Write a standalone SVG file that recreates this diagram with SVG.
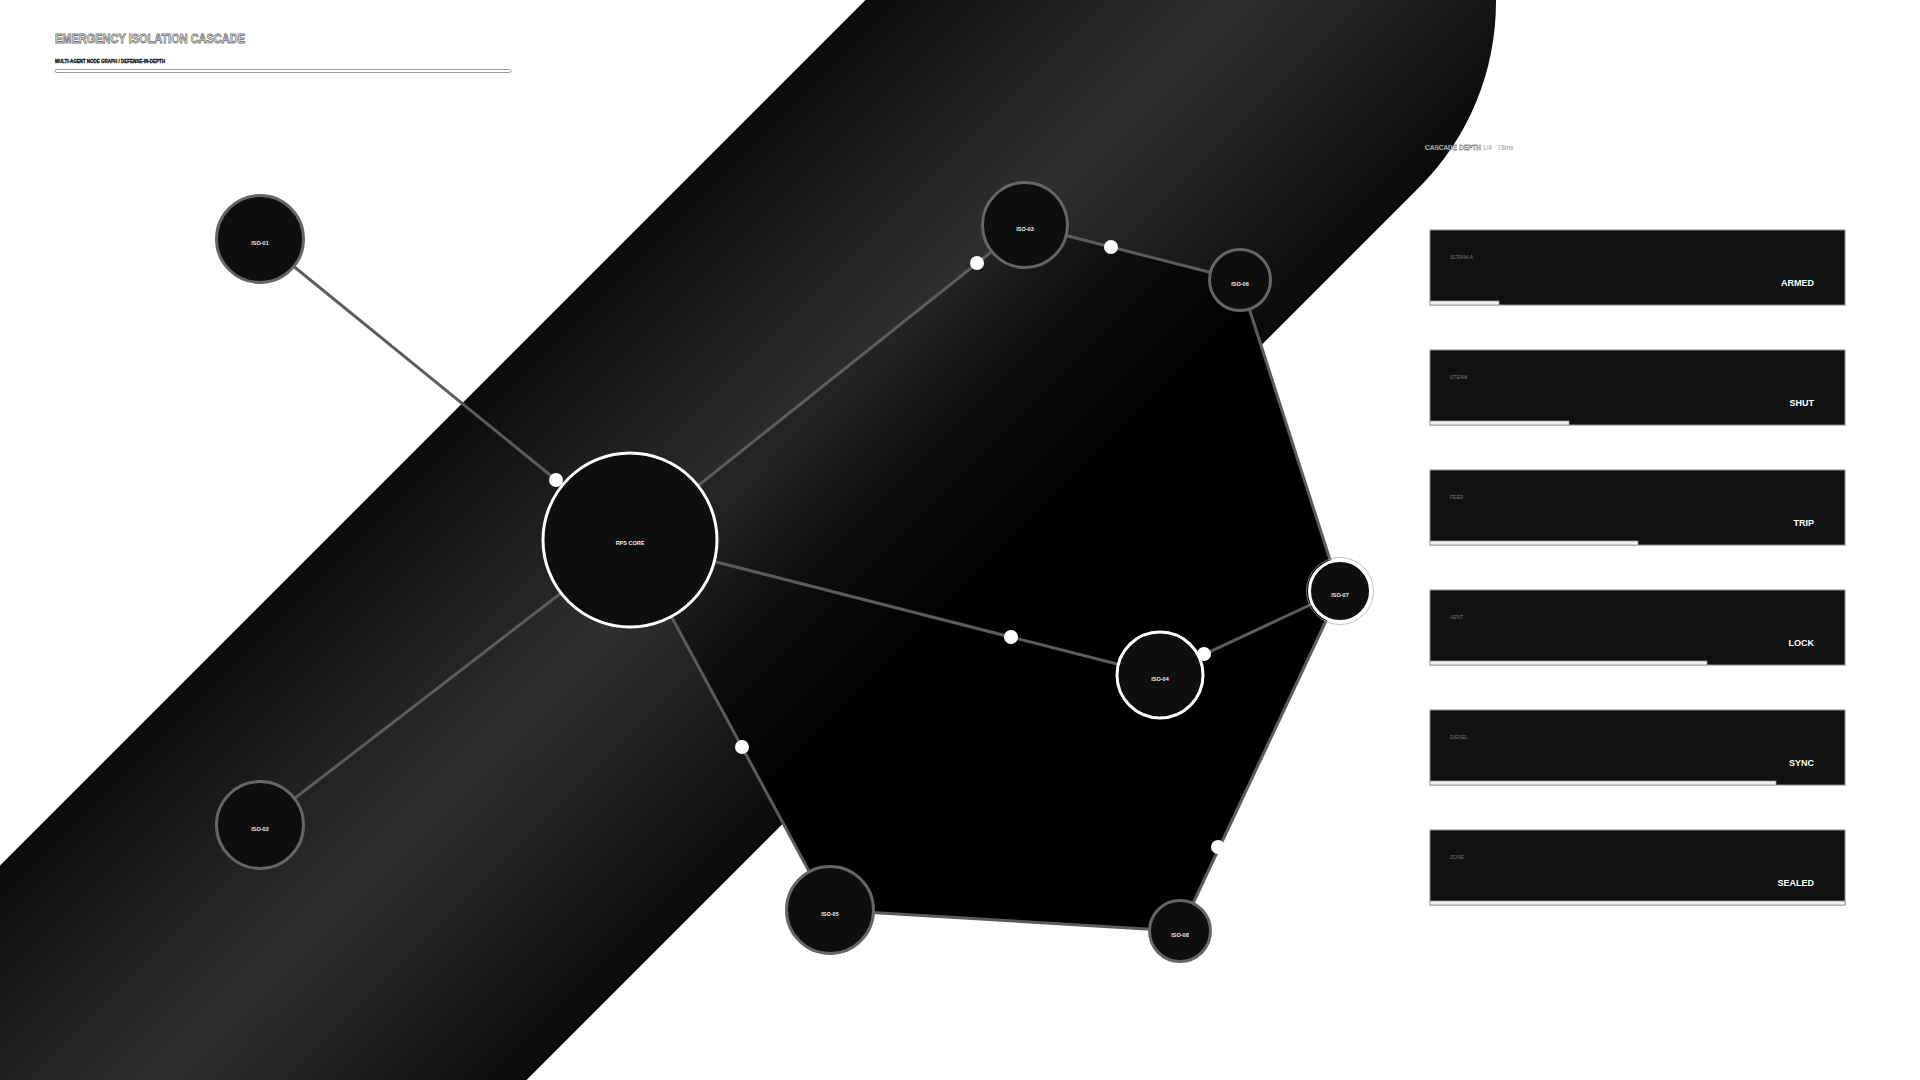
<svg xmlns="http://www.w3.org/2000/svg" width="1920" height="1080" viewBox="0 0 1920 1080">
<defs>
<linearGradient id="bandGrad" gradientUnits="userSpaceOnUse" x1="433" y1="433" x2="803" y2="803">
<stop offset="0" stop-color="#0b0b0b"/>
<stop offset="0.5" stop-color="#2f2f2f"/>
<stop offset="1" stop-color="#0a0a0a"/>
</linearGradient>
<linearGradient id="hullGrad" gradientUnits="userSpaceOnUse" x1="800" y1="300" x2="1050" y2="550">
<stop offset="0" stop-color="#000" stop-opacity="0"/>
<stop offset="1" stop-color="#000" stop-opacity="1"/>
</linearGradient>
<style>
.edge{stroke:#5c5c5c;stroke-width:3;fill:none}
.dot{fill:#fff}
.node{fill:#0e0e0e;stroke:#666;stroke-width:3}
.node-hi{fill:#0e0e0e;stroke:#fff;stroke-width:3}
.nlabel{font-family:"Liberation Sans",Arial,sans-serif;font-size:5.5px;font-weight:bold;fill:#eee;text-anchor:middle}
.panel{fill:#111;stroke:#8a8a8a;stroke-width:1}
.bar{fill:#f2f2f2;stroke:#999;stroke-width:0.8}
.plabel{font-family:"Liberation Sans",Arial,sans-serif;font-size:5px;fill:#777}
.pstatus{font-family:"Liberation Sans",Arial,sans-serif;font-size:9px;font-weight:bold;fill:#fff;text-anchor:end}
</style>
</defs>
<rect x="0" y="0" width="1920" height="1080" fill="#fff"/>
<g id="background">
<path d="M -400 1636 L 1234 2" stroke="url(#bandGrad)" stroke-width="524" stroke-linecap="round" fill="none"/>
<polygon points="630,540 1025,225 1240,280 1340,591 1180,931 830,910" fill="url(#hullGrad)"/>
</g>
<g id="header">
<text x="55" y="43" font-family="Liberation Sans, Arial, sans-serif" font-size="13" font-weight="bold" fill="#fff" stroke="#777" stroke-width="0.9" textLength="190" lengthAdjust="spacingAndGlyphs">EMERGENCY ISOLATION CASCADE</text>
<text x="55" y="62.5" font-family="Liberation Sans, Arial, sans-serif" font-size="5" font-weight="bold" fill="#111" stroke="#111" stroke-width="0.3" textLength="110" lengthAdjust="spacingAndGlyphs">MULTI-AGENT NODE GRAPH / DEFENSE-IN-DEPTH</text>
<rect x="55" y="69.5" width="456" height="3" rx="1.5" fill="#fff" stroke="#999" stroke-width="1"/>
<text x="1425" y="150" font-family="Liberation Sans, Arial, sans-serif" font-size="6.5"><tspan font-weight="bold" fill="#fff" stroke="#222" stroke-width="0.3">CASCADE DEPTH</tspan><tspan fill="#999"> 1/4 · 78ms</tspan></text>
</g>
<g id="connectors">
<line class="edge" x1="260" y1="239" x2="630" y2="540"/>
<line class="edge" x1="630" y1="540" x2="260" y2="825"/>
<line class="edge" x1="630" y1="540" x2="1025" y2="225"/>
<line class="edge" x1="1025" y1="225" x2="1240" y2="280"/>
<line class="edge" x1="630" y1="540" x2="1160" y2="675"/>
<line class="edge" x1="1160" y1="675" x2="1340" y2="591"/>
<line class="edge" x1="1240" y1="280" x2="1340" y2="591"/>
<line class="edge" x1="1340" y1="591" x2="1180" y2="931"/>
<line class="edge" x1="1180" y1="931" x2="830" y2="910"/>
<line class="edge" x1="630" y1="540" x2="830" y2="910"/>
<circle class="dot" cx="556" cy="480" r="7"/>
<circle class="dot" cx="977" cy="263" r="7"/>
<circle class="dot" cx="1111" cy="247" r="7"/>
<circle class="dot" cx="1011" cy="637" r="7"/>
<circle class="dot" cx="1204" cy="654" r="7"/>
<circle class="dot" cx="1218" cy="847" r="7"/>
<circle class="dot" cx="742" cy="747" r="7"/>
</g>
<g id="node-rps-core"><circle class="node-hi" cx="630" cy="540" r="87"/><text class="nlabel" x="630" y="545">RPS CORE</text></g>
<g id="node-iso-01"><circle class="node" cx="260" cy="239" r="43.5"/><text class="nlabel" x="260" y="244.5">ISO-01</text></g>
<g id="node-iso-02"><circle class="node" cx="260" cy="825" r="43.5"/><text class="nlabel" x="260" y="830.5">ISO-02</text></g>
<g id="node-iso-03"><circle class="node" cx="1025" cy="225" r="42.5"/><text class="nlabel" x="1025" y="230.5">ISO-03</text></g>
<g id="node-iso-04"><circle class="node-hi" cx="1160" cy="675" r="43"/><text class="nlabel" x="1160" y="680.5">ISO-04</text></g>
<g id="node-iso-05"><circle class="node" cx="830" cy="910" r="43.5"/><text class="nlabel" x="830" y="915.5">ISO-05</text></g>
<g id="node-iso-06"><circle class="node" cx="1240" cy="280" r="30.5"/><text class="nlabel" x="1240" y="285.5">ISO-06</text></g>
<g id="node-iso-07"><circle cx="1340" cy="591" r="33.5" fill="none" stroke="#aaa" stroke-width="1" opacity="0.7"/><circle class="node-hi" cx="1340" cy="591" r="30.5"/><text class="nlabel" x="1340" y="596.5">ISO-07</text></g>
<g id="node-iso-08"><circle class="node" cx="1180" cy="931" r="30.5"/><text class="nlabel" x="1180" y="936.5">ISO-08</text></g>
<g id="panel-scram"><rect class="panel" x="1430" y="230" width="415" height="75"/><rect class="bar" x="1430" y="301" width="69" height="4"/><text class="plabel" x="1450" y="259">SCRAM-A</text><text class="pstatus" x="1814" y="286">ARMED</text></g>
<g id="panel-steam"><rect class="panel" x="1430" y="350" width="415" height="75"/><rect class="bar" x="1430" y="421" width="139" height="4"/><text class="plabel" x="1450" y="379">STEAM</text><text class="pstatus" x="1814" y="406">SHUT</text></g>
<g id="panel-feed"><rect class="panel" x="1430" y="470" width="415" height="75"/><rect class="bar" x="1430" y="541" width="208" height="4"/><text class="plabel" x="1450" y="499">FEED</text><text class="pstatus" x="1814" y="526">TRIP</text></g>
<g id="panel-vent"><rect class="panel" x="1430" y="590" width="415" height="75"/><rect class="bar" x="1430" y="661" width="277" height="4"/><text class="plabel" x="1450" y="619">VENT</text><text class="pstatus" x="1814" y="646">LOCK</text></g>
<g id="panel-diesel"><rect class="panel" x="1430" y="710" width="415" height="75"/><rect class="bar" x="1430" y="781" width="346" height="4"/><text class="plabel" x="1450" y="739">DIESEL</text><text class="pstatus" x="1814" y="766">SYNC</text></g>
<g id="panel-zone"><rect class="panel" x="1430" y="830" width="415" height="75"/><rect class="bar" x="1430" y="901" width="415" height="4"/><text class="plabel" x="1450" y="859">ZONE</text><text class="pstatus" x="1814" y="886">SEALED</text></g>
</svg>
